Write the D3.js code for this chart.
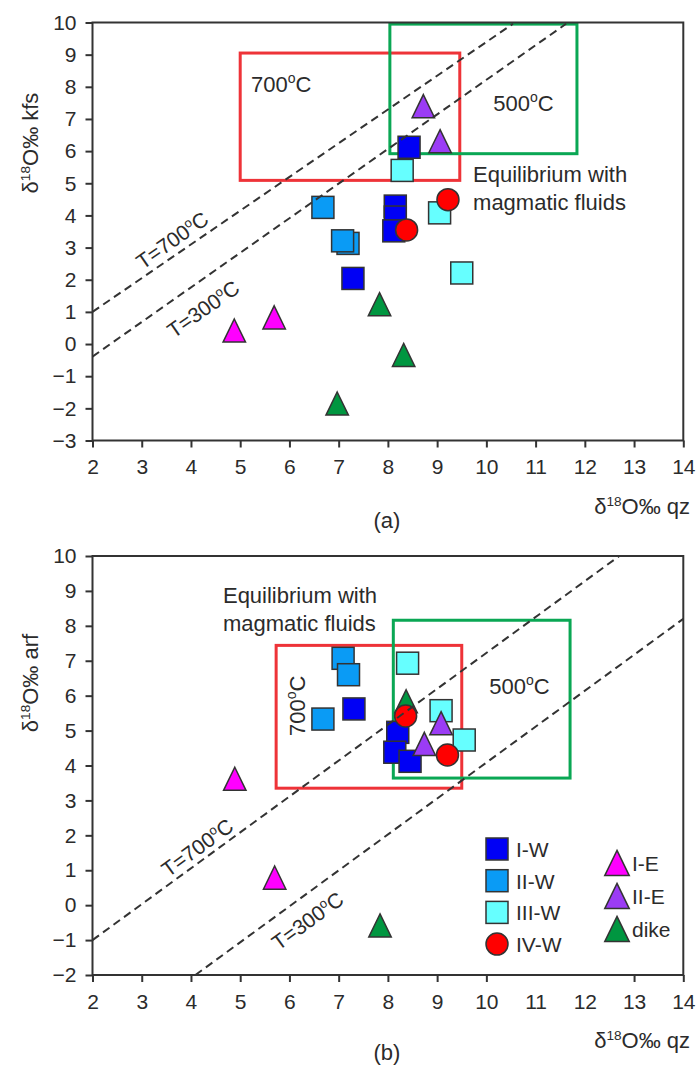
<!DOCTYPE html>
<html>
<head>
<meta charset="utf-8">
<script src="https://cdn.jsdelivr.net/npm/d3@7"></script>
<style>
body{margin:0;background:#fff;}
text{font-family:"Liberation Sans",Arial,sans-serif;fill:#2b2b2b;}
</style>
</head>
<body>
<div id="Container"></div>
<script>
// tick values
var xTicks = d3.range(2, 15);
var yTicksA = d3.range(-3, 11);
var yTicksB = d3.range(-2, 11);
var hiddenTickMarksB = [11, 12];   // covered by the legend box in (b)

// panel (a): d18O qz vs d18O kfs
var a_IW = [[8.43,6.12],[8.15,4.29],[8.15,3.95],[8.12,3.52],[7.29,2.04]];
var a_IIW = [[6.68,4.25],[7.19,3.13],[7.08,3.21]];
var a_IIIW = [[8.29,5.4],[9.05,4.08],[9.5,2.21]];
var a_IVW = [[8.38,3.55],[9.22,4.49]];
var a_IE = [[4.88,0.42],[5.69,0.83]];
var a_IIE = [[8.72,7.4],[9.06,6.31]];
var a_dike = [[7.83,1.24],[8.32,-0.34],[6.97,-1.85]];
var a_line700 = [[2,1.0],[10.54,9.96]];
var a_line300 = [[2,-0.39],[11.62,9.96]];
var a_box700 = [5.0, 9.46, 5.09, 9.05];   // x0,x1,y0,y1
var a_box500 = [8.04, 11.84, 5.92, 9.95];

// panel (b): d18O qz vs d18O arf
var b_IW = [[7.31,5.62],[8.2,4.95],[8.14,4.38],[8.45,4.12]];
var b_IIW = [[7.09,7.07],[7.2,6.6],[6.68,5.33]];
var b_IIIW = [[8.4,6.93],[9.08,5.57],[9.55,4.73]];
var b_IVW = [[8.36,5.42],[9.21,4.3]];
var b_IE = [[4.89,3.62],[5.7,0.79]];
var b_IIE = [[9.08,5.21],[8.74,4.62]];
var b_dike = [[7.84,-0.58],[8.37,5.84]];
var b_line700 = [[2,-1.0],[12.7,10]];
var b_line300 = [[4.09,-2],[14,8.2]];
var b_box700 = [5.73, 9.5, 3.35, 7.44];
var b_box500 = [8.11, 11.7, 3.64, 8.16];

var colors = {"I-W":"#0000f5","II-W":"#0a9bf5","III-W":"#66ffff","IV-W":"#ff0000","I-E":"#ff00ff","II-E":"#9b3cf5","dike":"#009640"};
var shapes = {"I-W":"sq","II-W":"sq","III-W":"sq","IV-W":"ci","I-E":"tr","II-E":"tr","dike":"tr"};
var drawOrder = ["II-W","I-W","III-W","dike","I-E","II-E","IV-W"];

var width = 697, height = 1073;
var svg = d3.select("#Container").append("svg")
	.attr("width", width)
	.attr("height", height);

function sup(sel, base, s, rest, fs)
{
	sel.text(base);
	sel.append("tspan").attr("dy", -8).style("font-size", (fs*0.62)+"px").text(s);
	sel.append("tspan").attr("dy", 8).text(rest);
}

function marker(g, shape, x, y, col, size)
{
	var h = size/2;
	if(shape=="sq")
		g.append("rect").attr("x", x-h).attr("y", y-h).attr("width", size).attr("height", size)
			.style("fill", col).style("stroke", "#333").style("stroke-width", 1.5);
	else if(shape=="ci")
		g.append("circle").attr("cx", x).attr("cy", y).attr("r", h)
			.style("fill", col).style("stroke", "#333").style("stroke-width", 1.5);
	else
		g.append("path").attr("d", "M"+x+","+(y-h*1.05)+"L"+(x+h*1.02)+","+(y+h*1.05)+"L"+(x-h*1.02)+","+(y+h*1.05)+"Z")
			.style("fill", col).style("stroke", "#333").style("stroke-width", 1.5);
}

function drawPanel(p)
{
	var x = d3.scaleLinear().domain([2,14]).range([92.5, 683.3]);
	var y = d3.scaleLinear().domain(p.ydom).range(p.yrange);
	var g = svg.append("g");

	// boxes
	[[p.box700,"#ee3338"],[p.box500,"#0aa754"]].forEach(function(b){
		g.append("rect")
			.attr("x", x(b[0][0])).attr("y", y(b[0][3]))
			.attr("width", x(b[0][1])-x(b[0][0]))
			.attr("height", y(b[0][2])-y(b[0][3]))
			.style("fill","none").style("stroke", b[1]).style("stroke-width", 3);
	});

	// markers
	drawOrder.forEach(function(k){
		p.data[k].forEach(function(d){
			marker(g, shapes[k], x(d[0]), y(d[1]), colors[k], 22);
		});
	});

	// equilibrium lines
	var line = d3.line().x(function(d){return x(d[0]);}).y(function(d){return y(d[1]);});
	[p.line700, p.line300].forEach(function(l){
		g.append("path").attr("d", line(l))
			.style("fill","none").style("stroke","#333").style("stroke-width",2)
			.style("stroke-dasharray","8,5");
	});

	// frame and axes
	g.append("rect").attr("x", x(2)).attr("y", y(10))
		.attr("width", x(14)-x(2)).attr("height", y(p.ydom[0])-y(10))
		.style("fill","none").style("stroke","#333").style("stroke-width",2);

	var ax = g.append("g").attr("transform","translate(0,"+y(p.ydom[0])+")")
		.call(d3.axisBottom(x).tickValues(xTicks).tickSize(7).tickPadding(12).tickSizeOuter(0));
	var ay = g.append("g").attr("transform","translate("+x(2)+",0)")
		.call(d3.axisLeft(y).tickValues(p.yticks).tickSize(7).tickPadding(9).tickSizeOuter(0));
	[ax, ay].forEach(function(a){
		a.select(".domain").remove();
		a.selectAll("line").style("stroke","#333").style("stroke-width",2);
		a.selectAll("text").style("font-size","21px").style("fill","#2b2b2b")
			.style("font-family","'Liberation Sans',Arial,sans-serif");
	});
	ax.selectAll(".tick").filter(function(d){return p.noTick.indexOf(d)>=0;})
		.select("line").remove();

	// labels on lines
	p.lineLabels.forEach(function(l){
		var t = g.append("text")
			.attr("transform","translate("+x(l[1])+","+y(l[2])+") rotate("+l[3]+")")
			.attr("text-anchor","middle").attr("dy","0.35em")
			.style("font-size","21px");
		t.text(l[0]);
		t.append("tspan").attr("dy",-8).style("font-size","13px").text("o");
		t.append("tspan").attr("dy",8).text("C");
	});

	// temperature box labels
	p.boxLabels.forEach(function(l){
		var t = g.append("text").style("font-size","22px");
		if(l[3])
			t.attr("transform","translate("+x(l[1])+","+y(l[2])+") rotate(-90)").attr("text-anchor","middle");
		else
			t.attr("x", x(l[1])).attr("y", y(l[2]));
		t.text(l[0]);
		t.append("tspan").attr("dy",-9).style("font-size","14px").text("o");
		t.append("tspan").attr("dy",9).text("C");
	});

	// equilibrium text
	var eq = g.append("text").style("font-size","22px");
	eq.append("tspan").attr("x", x(p.eq[0])).attr("y", y(p.eq[1])).text("Equilibrium with");
	eq.append("tspan").attr("x", x(p.eq[0])).attr("y", y(p.eq[1])+28).text("magmatic fluids");

	// axis titles
	var xt = g.append("text").attr("x", 690).attr("y", y(p.ydom[0])+73)
		.attr("text-anchor","end").style("font-size","22px");
	sup(xt, "\u03b4", "18", "O\u2030 qz", 22);
	var yt = g.append("text")
		.attr("transform","translate(38,"+p.ytitleY+") rotate(-90)")
		.attr("text-anchor","middle").style("font-size","22px");
	sup(yt, "\u03b4", "18", "O\u2030 "+p.ytitle, 22);

	g.append("text").attr("x", 387).attr("y", y(p.ydom[0])+p.tagDy)
		.attr("text-anchor","middle").style("font-size","22px").text(p.tag);

	return {x:x, y:y, g:g};
}

drawPanel({
	ydom:[-3,10], yrange:[440.5,22.5], yticks:yTicksA, noTick:[],
	data:{"I-W":a_IW,"II-W":a_IIW,"III-W":a_IIIW,"IV-W":a_IVW,"I-E":a_IE,"II-E":a_IIE,"dike":a_dike},
	line700:a_line700, line300:a_line300, box700:a_box700, box500:a_box500,
	lineLabels:[["T=700",3.62,3.23,-35],["T=300",4.25,1.09,-35]],
	boxLabels:[["700",5.22,7.84,false],["500",10.14,7.25,false]],
	eq:[9.73,5.05], ytitle:"kfs", ytitleY:143, tag:"(a)", tagDy:87
});

var pb = drawPanel({
	ydom:[-2,10], yrange:[975,556], yticks:yTicksB, noTick:hiddenTickMarksB,
	data:{"I-W":b_IW,"II-W":b_IIW,"III-W":b_IIIW,"IV-W":b_IVW,"I-E":b_IE,"II-E":b_IIE,"dike":b_dike},
	line700:b_line700, line300:b_line300, box700:b_box700, box500:b_box500,
	lineLabels:[["T=700",4.13,1.65,-36],["T=300",6.37,-0.45,-36]],
	boxLabels:[["700",6.32,5.71,true],["500",10.06,6.05,false]],
	eq:[4.65,8.66], ytitle:"arf", ytitleY:683, tag:"(b)", tagDy:85
});

// legend
var leg = pb.g.append("g").attr("transform","translate(497,849)");
var left = ["I-W","II-W","III-W","IV-W"], right = ["I-E","II-E","dike"];
left.forEach(function(k,i){
	marker(leg, shapes[k], 0, i*31.7, colors[k], 22);
	leg.append("text").attr("x", 19).attr("y", i*31.7+8).style("font-size","21px").text(k);
});
right.forEach(function(k,i){
	marker(leg, shapes[k], 120, 14+i*33, colors[k], 24);
	leg.append("text").attr("x", 135).attr("y", 14+i*33+8).style("font-size","21px").text(k);
});
</script>
</body>
</html>
